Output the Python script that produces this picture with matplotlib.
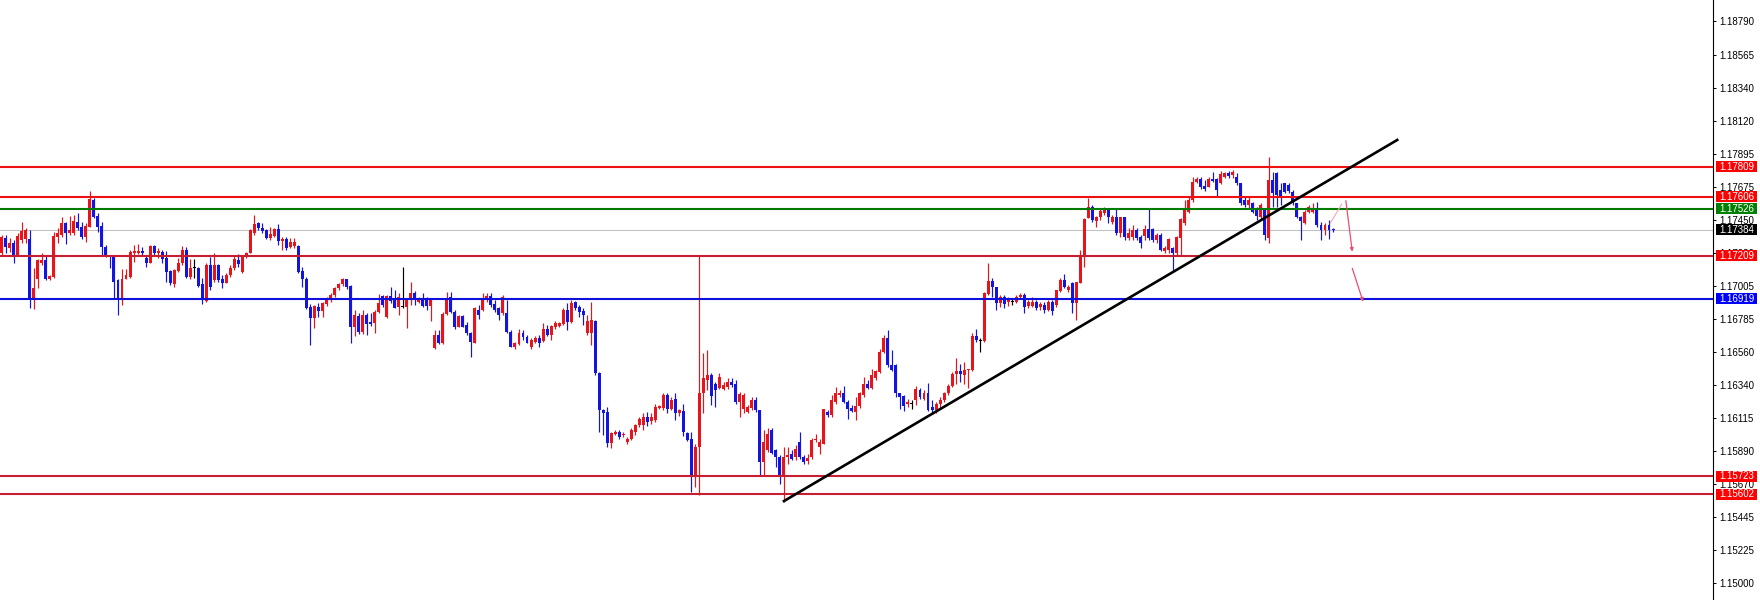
import matplotlib
matplotlib.use("Agg")
import matplotlib.pyplot as plt
import matplotlib.transforms as mtransforms
from matplotlib.patches import Rectangle
import numpy as np

# ---------------- data (EURUSD-like candles) ----------------
opens = [
    1.17229, 1.17326, 1.17259, 1.17292, 1.17214, 1.17315, 1.17320, 1.17320, 1.16921, 1.17049,
    1.17157, 1.17180, 1.17052, 1.17063, 1.17337, 1.17349, 1.17427, 1.17360, 1.17360, 1.17436,
    1.17405, 1.17333, 1.17405, 1.17585, 1.17477, 1.17412, 1.17270, 1.17214, 1.17202, 1.17045,
    1.16910, 1.17054, 1.17067, 1.17229, 1.17229, 1.17243, 1.17191, 1.17162, 1.17274, 1.17225,
    1.17236, 1.17191, 1.17108, 1.17018, 1.17108, 1.17157, 1.17247, 1.17063, 1.17124, 1.17124,
    1.17016, 1.16906, 1.17146, 1.17045, 1.17146, 1.17049, 1.17027, 1.17079, 1.17124, 1.17180,
    1.17101, 1.17198, 1.17229, 1.17364, 1.17427, 1.17394, 1.17382, 1.17326, 1.17342, 1.17387,
    1.17311, 1.17324, 1.17265, 1.17275, 1.17274, 1.17108, 1.17049, 1.16865, 1.16787, 1.16865,
    1.16838, 1.16883, 1.16910, 1.16944, 1.16989, 1.17016, 1.17049, 1.17005, 1.16730, 1.16802,
    1.16696, 1.16809, 1.16764, 1.16752, 1.16831, 1.16937, 1.16797, 1.16937, 1.16921, 1.16865,
    1.16865, 1.16865, 1.16910, 1.16960, 1.16898, 1.16914, 1.16910, 1.16869, 1.16588, 1.16674,
    1.16622, 1.16815, 1.16932, 1.16831, 1.16730, 1.16804, 1.16741, 1.16690, 1.16622, 1.16846,
    1.16842, 1.16910, 1.16937, 1.16882, 1.16853, 1.16824, 1.16824, 1.16696, 1.16595, 1.16611,
    1.16685, 1.16662, 1.16590, 1.16628, 1.16657, 1.16635, 1.16712, 1.16673, 1.16730, 1.16734,
    1.16747, 1.16846, 1.16763, 1.16898, 1.16860, 1.16838, 1.16685, 1.16685, 1.16770, 1.16415,
    1.16167, 1.16156, 1.15947, 1.16005, 1.16021, 1.15998, 1.15953, 1.15976, 1.16021, 1.16066,
    1.16066, 1.16122, 1.16094, 1.16100, 1.16185, 1.16180, 1.16268, 1.16178, 1.16246, 1.16145,
    1.16160, 1.16014, 1.15976, 1.15717, 1.15920, 1.16280, 1.16370, 1.16403, 1.16347, 1.16320,
    1.16313, 1.16325, 1.16358, 1.16347, 1.16224, 1.16172, 1.16156, 1.16180, 1.16235, 1.16167,
    1.15818, 1.15897, 1.16037, 1.15897, 1.15852, 1.15717, 1.15852, 1.15875, 1.15852, 1.15953,
    1.15852, 1.15825, 1.15852, 1.15965, 1.15920, 1.15942, 1.16156, 1.16134, 1.16224, 1.16268,
    1.16280, 1.16224, 1.16185, 1.16156, 1.16194, 1.16268, 1.16347, 1.16320, 1.16381, 1.16426,
    1.16561, 1.16657, 1.16471, 1.16471, 1.16280, 1.16262, 1.16208, 1.16210, 1.16239, 1.16302,
    1.16246, 1.16280, 1.16189, 1.16167, 1.16208, 1.16235, 1.16280, 1.16329, 1.16410, 1.16432,
    1.16404, 1.16437, 1.16441, 1.16666, 1.16635, 1.16635, 1.16950, 1.17040, 1.16995, 1.16887,
    1.16932, 1.16898, 1.16898, 1.16898, 1.16928, 1.16943, 1.16869, 1.16869, 1.16898, 1.16860,
    1.16876, 1.16846, 1.16898, 1.16876, 1.16972, 1.17045, 1.16977, 1.17027, 1.16887, 1.17027,
    1.17202, 1.17464, 1.17540, 1.17443, 1.17468, 1.17495, 1.17522, 1.17436, 1.17468, 1.17360,
    1.17468, 1.17328, 1.17337, 1.17382, 1.17337, 1.17342, 1.17390, 1.17390, 1.17315, 1.17349,
    1.17243, 1.17247, 1.17258, 1.17225, 1.17326, 1.17427, 1.17507, 1.17585, 1.17709, 1.17724,
    1.17679, 1.17675, 1.17724, 1.17724, 1.17697, 1.17742, 1.17765, 1.17754, 1.17742, 1.17697,
    1.17585, 1.17551, 1.17562, 1.17517, 1.17472, 1.17517, 1.17326, 1.17720, 1.17765, 1.17652,
    1.17697, 1.17686, 1.17641, 1.17562, 1.17472, 1.17427, 1.17506, 1.17506, 1.17530, 1.17418,
    1.17382, 1.17418, 1.17390,
]
highs = [
    1.17349, 1.17349, 1.17326, 1.17315, 1.17360, 1.17439, 1.17394, 1.17382, 1.17124, 1.17184,
    1.17225, 1.17207, 1.17079, 1.17371, 1.17394, 1.17472, 1.17439, 1.17477, 1.17484, 1.17495,
    1.17439, 1.17427, 1.17645, 1.17596, 1.17495, 1.17439, 1.17281, 1.17214, 1.17207, 1.17050,
    1.17117, 1.17117, 1.17247, 1.17281, 1.17286, 1.17265, 1.17207, 1.17281, 1.17281, 1.17258,
    1.17247, 1.17243, 1.17112, 1.17117, 1.17191, 1.17274, 1.17270, 1.17184, 1.17184, 1.17135,
    1.17056, 1.17157, 1.17202, 1.17229, 1.17153, 1.17079, 1.17090, 1.17146, 1.17214, 1.17220,
    1.17214, 1.17236, 1.17387, 1.17484, 1.17434, 1.17432, 1.17387, 1.17405, 1.17394, 1.17421,
    1.17337, 1.17333, 1.17326, 1.17326, 1.17281, 1.17131, 1.17067, 1.16883, 1.16876, 1.16887,
    1.16899, 1.16932, 1.16955, 1.16996, 1.17022, 1.17056, 1.17054, 1.17011, 1.16842, 1.16820,
    1.16842, 1.16820, 1.16824, 1.16842, 1.16951, 1.16944, 1.16944, 1.17000, 1.16977, 1.16955,
    1.17135, 1.16921, 1.17033, 1.16972, 1.16932, 1.16955, 1.16932, 1.16921, 1.16707, 1.16707,
    1.16831, 1.16966, 1.16966, 1.16842, 1.16808, 1.16808, 1.16763, 1.16696, 1.16860, 1.16876,
    1.16955, 1.16955, 1.16955, 1.16910, 1.16865, 1.16943, 1.16910, 1.16707, 1.16628, 1.16712,
    1.16707, 1.16673, 1.16651, 1.16666, 1.16673, 1.16752, 1.16741, 1.16741, 1.16770, 1.16763,
    1.16853, 1.16887, 1.16910, 1.16905, 1.16876, 1.16853, 1.16808, 1.16898, 1.16775, 1.16426,
    1.16178, 1.16190, 1.16021, 1.16032, 1.16032, 1.16021, 1.15987, 1.16044, 1.16077, 1.16122,
    1.16145, 1.16156, 1.16145, 1.16212, 1.16201, 1.16285, 1.16285, 1.16257, 1.16285, 1.16178,
    1.16212, 1.16021, 1.16021, 1.15942, 1.17209, 1.16550, 1.16572, 1.16415, 1.16358, 1.16415,
    1.16358, 1.16381, 1.16381, 1.16370, 1.16291, 1.16285, 1.16201, 1.16257, 1.16257, 1.16167,
    1.16032, 1.16044, 1.16044, 1.15908, 1.15863, 1.15920, 1.15920, 1.15897, 1.15931, 1.16021,
    1.15863, 1.15875, 1.15982, 1.16005, 1.15976, 1.16178, 1.16167, 1.16268, 1.16325, 1.16302,
    1.16329, 1.16235, 1.16201, 1.16257, 1.16291, 1.16392, 1.16370, 1.16448, 1.16437, 1.16583,
    1.16673, 1.16707, 1.16572, 1.16482, 1.16280, 1.16268, 1.16246, 1.16235, 1.16329, 1.16320,
    1.16302, 1.16351, 1.16235, 1.16224, 1.16257, 1.16291, 1.16347, 1.16426, 1.16516, 1.16480,
    1.16493, 1.16448, 1.16685, 1.16718, 1.16657, 1.16965, 1.17161, 1.17056, 1.16999, 1.16943,
    1.16943, 1.16932, 1.16914, 1.16943, 1.16955, 1.16955, 1.16910, 1.16932, 1.16910, 1.16898,
    1.16898, 1.16910, 1.16910, 1.16981, 1.17056, 1.17085, 1.17011, 1.17033, 1.17033, 1.17247,
    1.17464, 1.17596, 1.17551, 1.17477, 1.17529, 1.17540, 1.17529, 1.17484, 1.17522, 1.17472,
    1.17472, 1.17394, 1.17416, 1.17394, 1.17349, 1.17416, 1.17529, 1.17396, 1.17360, 1.17360,
    1.17274, 1.17326, 1.17270, 1.17342, 1.17464, 1.17585, 1.17603, 1.17742, 1.17738, 1.17742,
    1.17720, 1.17738, 1.17776, 1.17731, 1.17783, 1.17776, 1.17783, 1.17787, 1.17769, 1.17702,
    1.17607, 1.17607, 1.17574, 1.17540, 1.17562, 1.17529, 1.17877, 1.17776, 1.17776, 1.17697,
    1.17702, 1.17702, 1.17652, 1.17562, 1.17479, 1.17517, 1.17551, 1.17562, 1.17574, 1.17439,
    1.17432, 1.17450, 1.17398,
]
lows = [
    1.17214, 1.17225, 1.17236, 1.17162, 1.17207, 1.17292, 1.17292, 1.16854, 1.16847, 1.16989,
    1.17146, 1.17045, 1.17045, 1.17056, 1.17292, 1.17337, 1.17288, 1.17349, 1.17349, 1.17382,
    1.17320, 1.17304, 1.17405, 1.17461, 1.17371, 1.17214, 1.17202, 1.17124, 1.16917, 1.16809,
    1.16876, 1.17050, 1.17056, 1.17169, 1.17220, 1.17207, 1.17135, 1.17157, 1.17214, 1.17191,
    1.17157, 1.17034, 1.17011, 1.17000, 1.17101, 1.17146, 1.17056, 1.17050, 1.17056, 1.17000,
    1.16883, 1.16899, 1.16977, 1.17034, 1.17034, 1.16989, 1.17022, 1.17067, 1.17112, 1.17135,
    1.17094, 1.17191, 1.17225, 1.17349, 1.17382, 1.17364, 1.17320, 1.17315, 1.17337, 1.17281,
    1.17247, 1.17247, 1.17259, 1.17259, 1.17094, 1.17000, 1.16847, 1.16606, 1.16719, 1.16797,
    1.16797, 1.16870, 1.16899, 1.16932, 1.16977, 1.17005, 1.16982, 1.16622, 1.16669, 1.16681,
    1.16681, 1.16674, 1.16734, 1.16689, 1.16820, 1.16865, 1.16786, 1.16892, 1.16854, 1.16809,
    1.16854, 1.16723, 1.16876, 1.16876, 1.16887, 1.16861, 1.16846, 1.16770, 1.16583, 1.16613,
    1.16613, 1.16808, 1.16824, 1.16718, 1.16725, 1.16725, 1.16673, 1.16527, 1.16617, 1.16779,
    1.16838, 1.16899, 1.16865, 1.16831, 1.16775, 1.16808, 1.16685, 1.16590, 1.16577, 1.16606,
    1.16640, 1.16617, 1.16583, 1.16622, 1.16590, 1.16628, 1.16667, 1.16640, 1.16718, 1.16730,
    1.16741, 1.16707, 1.16752, 1.16842, 1.16797, 1.16741, 1.16673, 1.16606, 1.16403, 1.16021,
    1.16000, 1.15920, 1.15915, 1.15998, 1.15976, 1.15987, 1.15942, 1.15965, 1.15998, 1.16055,
    1.16032, 1.16060, 1.16077, 1.16088, 1.16172, 1.16167, 1.16150, 1.16167, 1.16100, 1.16130,
    1.15990, 1.15960, 1.15616, 1.15650, 1.15593, 1.16145, 1.16302, 1.16201, 1.16190, 1.16313,
    1.16302, 1.16313, 1.16325, 1.16212, 1.16122, 1.16150, 1.16145, 1.16167, 1.16156, 1.15725,
    1.15725, 1.15886, 1.15870, 1.15785, 1.15672, 1.15550, 1.15807, 1.15830, 1.15830, 1.15841,
    1.15807, 1.15807, 1.15841, 1.15953, 1.15875, 1.15942, 1.16122, 1.16122, 1.16212, 1.16257,
    1.16216, 1.16111, 1.16156, 1.16100, 1.16185, 1.16257, 1.16313, 1.16313, 1.16370, 1.16419,
    1.16550, 1.16460, 1.16432, 1.16257, 1.16172, 1.16163, 1.16190, 1.16178, 1.16201, 1.16246,
    1.16239, 1.16163, 1.16149, 1.16145, 1.16178, 1.16224, 1.16268, 1.16325, 1.16347, 1.16360,
    1.16347, 1.16320, 1.16432, 1.16628, 1.16561, 1.16628, 1.16943, 1.16932, 1.16842, 1.16865,
    1.16853, 1.16869, 1.16876, 1.16891, 1.16921, 1.16820, 1.16853, 1.16865, 1.16842, 1.16846,
    1.16820, 1.16838, 1.16808, 1.16865, 1.16966, 1.16988, 1.16966, 1.16820, 1.16775, 1.17022,
    1.17135, 1.17461, 1.17439, 1.17405, 1.17450, 1.17484, 1.17427, 1.17421, 1.17349, 1.17337,
    1.17315, 1.17315, 1.17315, 1.17315, 1.17259, 1.17315, 1.17315, 1.17304, 1.17292, 1.17243,
    1.17225, 1.17229, 1.17112, 1.17214, 1.17214, 1.17416, 1.17495, 1.17574, 1.17702, 1.17657,
    1.17645, 1.17670, 1.17709, 1.17612, 1.17693, 1.17731, 1.17731, 1.17731, 1.17686, 1.17551,
    1.17540, 1.17529, 1.17495, 1.17450, 1.17450, 1.17315, 1.17292, 1.17540, 1.17540, 1.17551,
    1.17630, 1.17630, 1.17551, 1.17461, 1.17315, 1.17423, 1.17495, 1.17495, 1.17405, 1.17315,
    1.17349, 1.17322, 1.17371,
]
closes = [
    1.17333, 1.17270, 1.17292, 1.17214, 1.17342, 1.17378, 1.17382, 1.16921, 1.16989, 1.17180,
    1.17180, 1.17052, 1.17074, 1.17342, 1.17360, 1.17427, 1.17364, 1.17382, 1.17445, 1.17398,
    1.17333, 1.17410, 1.17590, 1.17472, 1.17405, 1.17270, 1.17214, 1.17202, 1.17034, 1.16921,
    1.17054, 1.17079, 1.17236, 1.17243, 1.17240, 1.17229, 1.17162, 1.17274, 1.17225, 1.17241,
    1.17187, 1.17101, 1.17022, 1.17112, 1.17157, 1.17247, 1.17063, 1.17124, 1.17124, 1.17005,
    1.16910, 1.17146, 1.17000, 1.17146, 1.17045, 1.17022, 1.17079, 1.17124, 1.17184, 1.17151,
    1.17198, 1.17225, 1.17382, 1.17421, 1.17394, 1.17378, 1.17326, 1.17353, 1.17387, 1.17311,
    1.17324, 1.17259, 1.17304, 1.17304, 1.17101, 1.17049, 1.16854, 1.16787, 1.16870, 1.16838,
    1.16887, 1.16910, 1.16944, 1.16989, 1.17018, 1.17049, 1.16996, 1.16730, 1.16809, 1.16696,
    1.16809, 1.16748, 1.16748, 1.16831, 1.16887, 1.16876, 1.16937, 1.16905, 1.16854, 1.16928,
    1.16865, 1.16921, 1.16955, 1.16910, 1.16914, 1.16869, 1.16869, 1.16910, 1.16674, 1.16617,
    1.16815, 1.16921, 1.16831, 1.16730, 1.16804, 1.16730, 1.16685, 1.16628, 1.16853, 1.16808,
    1.16910, 1.16937, 1.16876, 1.16842, 1.16808, 1.16928, 1.16696, 1.16595, 1.16617, 1.16685,
    1.16662, 1.16622, 1.16640, 1.16657, 1.16622, 1.16712, 1.16673, 1.16734, 1.16752, 1.16757,
    1.16846, 1.16763, 1.16887, 1.16853, 1.16831, 1.16808, 1.16770, 1.16775, 1.16415, 1.16167,
    1.16145, 1.15947, 1.16014, 1.16021, 1.15987, 1.16010, 1.15976, 1.16032, 1.16066, 1.16111,
    1.16122, 1.16088, 1.16122, 1.16190, 1.16194, 1.16268, 1.16172, 1.16235, 1.16145, 1.16167,
    1.16021, 1.15969, 1.15717, 1.15920, 1.16280, 1.16381, 1.16403, 1.16262, 1.16302, 1.16392,
    1.16336, 1.16358, 1.16336, 1.16224, 1.16275, 1.16268, 1.16190, 1.16235, 1.16167, 1.15818,
    1.15953, 1.16010, 1.15879, 1.15852, 1.15722, 1.15852, 1.15863, 1.15841, 1.15908, 1.15852,
    1.15818, 1.15847, 1.15965, 1.15976, 1.15953, 1.16172, 1.16134, 1.16235, 1.16280, 1.16284,
    1.16224, 1.16172, 1.16163, 1.16194, 1.16280, 1.16347, 1.16320, 1.16403, 1.16432, 1.16561,
    1.16657, 1.16471, 1.16437, 1.16280, 1.16257, 1.16194, 1.16224, 1.16210, 1.16313, 1.16257,
    1.16284, 1.16167, 1.16167, 1.16212, 1.16239, 1.16280, 1.16329, 1.16410, 1.16432, 1.16410,
    1.16441, 1.16446, 1.16666, 1.16640, 1.16635, 1.16959, 1.17040, 1.17000, 1.16891, 1.16932,
    1.16882, 1.16914, 1.16898, 1.16932, 1.16943, 1.16865, 1.16898, 1.16898, 1.16853, 1.16882,
    1.16846, 1.16898, 1.16838, 1.16977, 1.17045, 1.16999, 1.16999, 1.16891, 1.17033, 1.17210,
    1.17457, 1.17540, 1.17450, 1.17472, 1.17513, 1.17522, 1.17472, 1.17468, 1.17360, 1.17468,
    1.17337, 1.17360, 1.17382, 1.17326, 1.17292, 1.17390, 1.17326, 1.17315, 1.17349, 1.17247,
    1.17258, 1.17319, 1.17225, 1.17337, 1.17454, 1.17517, 1.17585, 1.17709, 1.17724, 1.17670,
    1.17657, 1.17724, 1.17715, 1.17652, 1.17760, 1.17765, 1.17747, 1.17776, 1.17697, 1.17562,
    1.17551, 1.17585, 1.17507, 1.17477, 1.17551, 1.17350, 1.17720, 1.17630, 1.17619, 1.17603,
    1.17641, 1.17645, 1.17562, 1.17472, 1.17440, 1.17506, 1.17540, 1.17530, 1.17418, 1.17382,
    1.17418, 1.17382, 1.17384,
]

# horizontal levels drawn on the chart
level_prices = [1.17809, 1.17606, 1.17526, 1.17209, 1.16919, 1.15723, 1.15602]
level_colors = ["#EE1111", "#EE1111", "#007A00", "#C81E32", "#1010DD", "#C81E32", "#C81E32"]
label_bg = ["#FF0000", "#FF0000", "#008000", "#FF0000", "#0000FF", "#FF0000", "#FF0000"]
bid_price = 1.17384

tick_values = [1.18790, 1.18565, 1.18340, 1.18120, 1.17895, 1.17675, 1.17450, 1.17230,
               1.17005, 1.16785, 1.16560, 1.16340, 1.16115, 1.15890, 1.15670, 1.15445,
               1.15225, 1.15000]

# trend line (bar index, price)
trend_x = [194.8, 348.3]
trend_y = [1.15550, 1.17994]

# hand-drawn arrows (bar index, price)
pink_x = [331.3, 334.2]
pink_y = [1.17428, 1.17558]
arrow1_x = [335.2, 336.8]
arrow1_y = [1.17580, 1.17236]
arrow2_x = [336.8, 339.5]
arrow2_y = [1.17124, 1.16899]

# ---------------- figure ----------------
W, H = 1760, 600
AX_W = 1713
fig = plt.figure(figsize=(W / 100, H / 100), dpi=100)
fig.patch.set_facecolor("white")
ax = fig.add_axes([0, 0, AX_W / W, 1])
ax.set_facecolor("white")

step = 4.01
x0 = 1.7
ax.set_xlim(-x0 / step, (AX_W - x0) / step)
ax.set_ylim(1.148873, 1.189332)

o = np.array(opens); h = np.array(highs); l = np.array(lows); c = np.array(closes)
n = len(o)
idx = np.arange(n)
up = c > o
dn = c < o
col = np.where(up, "#E8141C", np.where(dn, "#1414E0", "#000000"))

top = np.maximum(np.maximum(o, c), h)
bot = np.minimum(np.minimum(o, c), l)
ax.vlines(idx, bot, top, colors=col, linewidth=0.85, zorder=3)
body_lo = np.minimum(o, c)
body_h = np.maximum(np.abs(c - o), 0.00007)
ax.bar(idx, body_h, bottom=body_lo, width=0.74, color=col, linewidth=0, zorder=4)

# level lines
ax.axhline(bid_price, color="#C0C0C0", linewidth=0.75, zorder=2)
for p, cl in zip(level_prices, level_colors):
    ax.axhline(p, color=cl, linewidth=1.5, zorder=5)

# trend line
ax.plot(trend_x, trend_y, color="black", linewidth=1.9, zorder=6, solid_capstyle="butt")

# arrows
ax.plot(pink_x, pink_y, color="#F2A8B8", linewidth=0.8, zorder=6)
for ax_, ay_ in ((arrow1_x, arrow1_y), (arrow2_x, arrow2_y)):
    ax.annotate("", xy=(ax_[1], ay_[1]), xytext=(ax_[0], ay_[0]),
                arrowprops=dict(arrowstyle="-|>", color="#E4506E", lw=0.9,
                                mutation_scale=5, shrinkA=0, shrinkB=0), zorder=6)

# axes styling
for s in ("top", "left", "bottom"):
    ax.spines[s].set_visible(False)
ax.spines["right"].set_linewidth(0.8)
ax.spines["right"].set_color("black")
ax.set_xticks([])
ax.yaxis.tick_right()
ax.set_yticks(tick_values)
ax.set_yticklabels([f"{v:.5f}" for v in tick_values])
ax.tick_params(axis="y", direction="out", length=2.2, width=0.7, pad=2.6,
               labelsize=7.0, colors="black")
for t in ax.get_yticklabels():
    t.set_fontfamily("Liberation Sans")

# price boxes on the axis
trans = mtransforms.blended_transform_factory(fig.transFigure, ax.transData)
box_h = 11 / 14830.0
box_x = 1716 / W
box_w = 41 / W
boxes = list(zip(level_prices, label_bg)) + [(bid_price, "#000000")]
for p, bg in boxes:
    fig.add_artist(Rectangle((box_x, p - box_h / 2), box_w, box_h, transform=trans,
                             facecolor=bg, edgecolor="none", zorder=10, clip_on=False))
    fig.text(1719.5 / W, p, f"{p:.5f}", transform=trans, color="white", fontsize=7.0,
             family="Liberation Sans", va="center", ha="left", zorder=11)

fig.savefig("out.png", dpi=100, facecolor="white")
